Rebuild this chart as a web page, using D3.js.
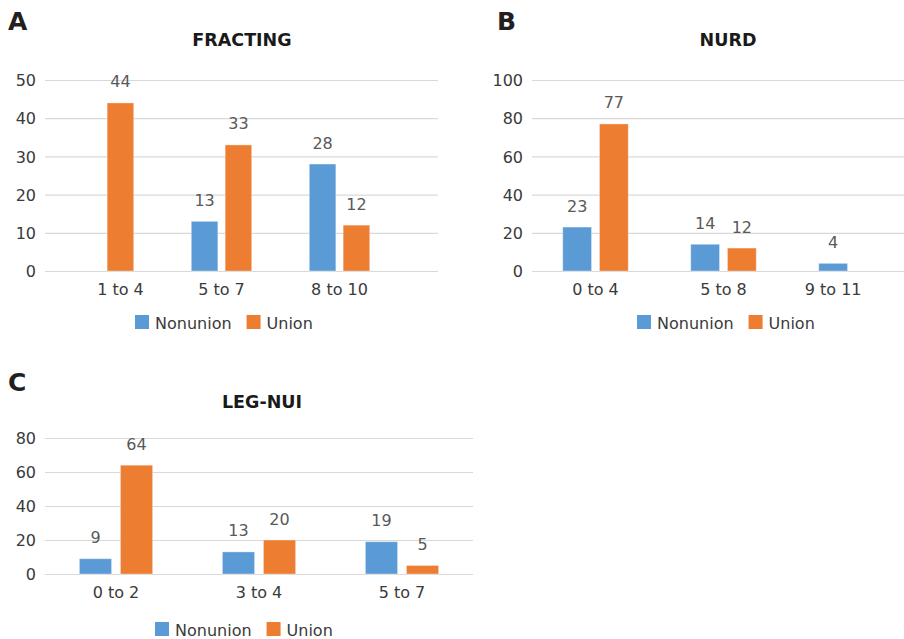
<!DOCTYPE html>
<html>
<head>
<meta charset="utf-8">
<script src="https://cdn.jsdelivr.net/npm/d3@7"></script>
<style>
  html, body { margin: 0; padding: 0; background: #fff; }
  svg { display: block; }
  text { font-family: "DejaVu Sans", Verdana, sans-serif; }
</style>
</head>
<body>
<svg id="chart" width="904" height="639"></svg>
<script>
// ---- data ----
const seriesNames = ["Nonunion", "Union"];

const fractingCategories = ["1 to 4", "5 to 7", "8 to 10"];
const fractingNonunion = [0, 13, 28];
const fractingUnion = [44, 33, 12];
const fractingTicks = [0, 10, 20, 30, 40, 50];

const nurdCategories = ["0 to 4", "5 to 8", "9 to 11"];
const nurdNonunion = [23, 14, 4];
const nurdUnion = [77, 12, 0];
const nurdTicks = [0, 20, 40, 60, 80, 100];

const legNuiCategories = ["0 to 2", "3 to 4", "5 to 7"];
const legNuiNonunion = [9, 13, 19];
const legNuiUnion = [64, 20, 5];
const legNuiTicks = [0, 20, 40, 60, 80];

// ---- layout of the three panels ----
const colors = { Nonunion: "#5b9bd5", Union: "#ed7d31" };

const panels = [
  { letter: "A", letterX: 8, letterY: 30, title: "FRACTING", titleX: 242, titleY: 46,
    categories: fractingCategories, nonunion: fractingNonunion, union: fractingUnion, ticks: fractingTicks,
    gridX0: 45, gridX1: 438, bandX0: 44.5, bandX1: 398.5, yTop: 80, yBottom: 271,
    tickX: 36, legendX: 135, legendY: 315 },
  { letter: "B", letterX: 497, letterY: 30, title: "NURD", titleX: 728, titleY: 46,
    categories: nurdCategories, nonunion: nurdNonunion, union: nurdUnion, ticks: nurdTicks,
    gridX0: 532, gridX1: 915, bandX0: 531.5, bandX1: 915.5, yTop: 80, yBottom: 271,
    tickX: 523, legendX: 637, legendY: 315 },
  { letter: "C", letterX: 8, letterY: 391, title: "LEG-NUI", titleX: 262, titleY: 408,
    categories: legNuiCategories, nonunion: legNuiNonunion, union: legNuiUnion, ticks: legNuiTicks,
    gridX0: 45, gridX1: 473, bandX0: 44.5, bandX1: 473.5, yTop: 438, yBottom: 574,
    tickX: 36, legendX: 155, legendY: 622 }
];

const svg = d3.select("#chart");

panels.forEach(p => {
  const g = svg.append("g");
  const rows = p.categories.map((c, i) => ({ category: c, Nonunion: p.nonunion[i], Union: p.union[i] }));

  const x0 = d3.scaleBand().domain(p.categories).range([p.bandX0, p.bandX1]).paddingInner(0).paddingOuter(0);
  const step = x0.bandwidth();
  const barW = step * 0.225;
  const gap = step * 0.062;
  const x1 = d3.scaleOrdinal().domain(seriesNames)
    .range([-(gap / 2) - barW, gap / 2]);
  const y = d3.scaleLinear()
    .domain([0, d3.max(p.ticks)])
    .range([p.yBottom, p.yTop]);

  // panel letter and title
  g.append("text").attr("x", p.letterX).attr("y", p.letterY)
    .attr("font-family", "'Liberation Sans', Arial, sans-serif")
    .attr("font-weight", "bold").attr("font-size", 25).attr("fill", "#231f20")
    .text(p.letter);
  g.append("text").attr("x", p.titleX).attr("y", p.titleY)
    .attr("text-anchor", "middle").attr("font-weight", "bold")
    .attr("font-size", 17.5).attr("fill", "#1a1a1a")
    .text(p.title);

  // horizontal gridlines
  const yAxis = d3.axisLeft(y).tickValues(p.ticks).tickSize(0).tickPadding(0);
  const gridG = g.append("g");
  gridG.selectAll("line").data(p.ticks).join("line")
    .attr("x1", p.gridX0).attr("x2", p.gridX1)
    .attr("y1", d => y(d) + 0.5).attr("y2", d => y(d) + 0.5)
    .attr("stroke", "#d9d9d9").attr("stroke-width", 1.2);

  // y-axis tick labels
  const axisG = g.append("g").attr("transform", `translate(${p.tickX},0)`).call(yAxis);
  axisG.select(".domain").remove();
  axisG.selectAll("text")
    .attr("font-family", "'DejaVu Sans', Verdana, sans-serif")
    .attr("font-size", 16).attr("fill", "#3a3a3a").attr("dy", "0.36em");

  // bars
  const groups = g.selectAll("g.cat").data(rows).join("g").attr("class", "cat")
    .attr("transform", d => `translate(${x0(d.category) + step / 2},0)`);

  groups.selectAll("rect")
    .data(d => seriesNames.map(s => ({ s, v: d[s] })).filter(e => e.v > 0))
    .join("rect")
    .attr("x", e => x1(e.s))
    .attr("width", barW)
    .attr("y", e => y(e.v))
    .attr("height", e => y(0) - y(e.v))
    .attr("fill", e => colors[e.s])
    .attr("stroke", "rgba(255,255,255,0.35)").attr("stroke-width", 1);

  // value labels
  groups.selectAll("text.val")
    .data(d => seriesNames.map(s => ({ s, v: d[s] })).filter(e => e.v > 0))
    .join("text").attr("class", "val")
    .attr("x", e => x1(e.s) + barW / 2)
    .attr("y", e => y(e.v) - 15.5)
    .attr("text-anchor", "middle")
    .attr("font-size", 16).attr("fill", "#595959")
    .text(e => e.v);

  // category labels, centred under the bars that are drawn
  groups.append("text")
    .attr("x", d => {
      const shown = seriesNames.filter(s => d[s] > 0);
      return d3.mean(shown, s => x1(s) + barW / 2);
    })
    .attr("y", y(0) + 24)
    .attr("text-anchor", "middle")
    .attr("font-size", 16).attr("fill", "#3a3a3a")
    .text(d => d.category);

  // legend
  const leg = g.append("g").attr("transform", `translate(${p.legendX},${p.legendY})`);
  let lx = 0;
  seriesNames.forEach(s => {
    leg.append("rect").attr("x", lx).attr("y", 0).attr("width", 14).attr("height", 14)
      .attr("fill", colors[s]);
    const t = leg.append("text").attr("x", lx + 20).attr("y", 14)
      .attr("font-size", 16).attr("fill", "#3a3a3a").text(s);
    lx += 20 + t.node().getComputedTextLength() + 15;
  });
});
</script>
</body>
</html>
